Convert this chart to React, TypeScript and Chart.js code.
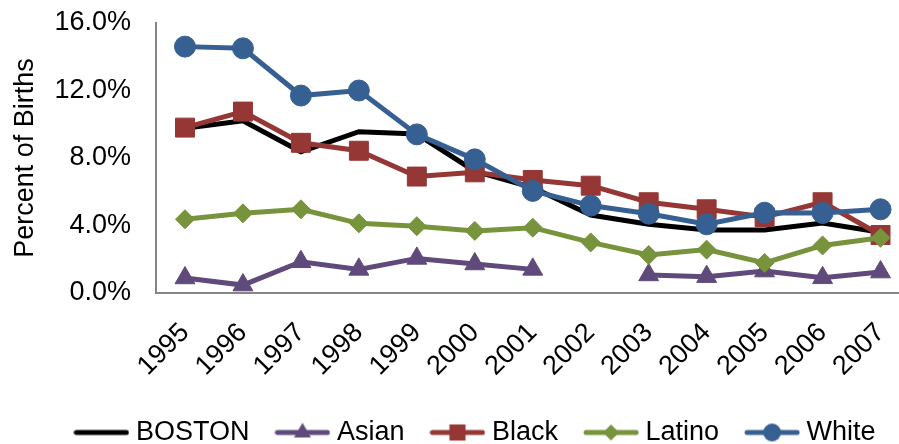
import React, { useEffect, useRef } from "react";
import { Chart, registerables } from "chart.js";

Chart.register(...registerables);

const years = ["1995", "1996", "1997", "1998", "1999", "2000", "2001", "2002", "2003", "2004", "2005", "2006", "2007"];
const boston = [9.76, 10.2, 8.37, 9.56, 9.42, 7.22, 6.25, 4.62, 4.08, 3.73, 3.73, 4.15, 3.6];
const asian = [0.89, 0.47, 1.85, 1.4, 2.05, 1.72, 1.4, null, 1.07, 0.97, 1.3, 0.9, 1.24];
const black = [9.8, 10.75, 8.9, 8.43, 6.9, 7.15, 6.7, 6.36, 5.38, 4.96, 4.5, 5.38, 3.44];
const latino = [4.37, 4.72, 4.96, 4.13, 3.96, 3.68, 3.87, 3.0, 2.25, 2.57, 1.78, 2.82, 3.27];
const white = [14.6, 14.5, 11.7, 12.0, 9.4, 7.92, 6.05, 5.18, 4.7, 4.07, 4.76, 4.74, 4.96];
const yTicks = [0, 4, 8, 12, 16];

const seriesNames = ["BOSTON", "Asian", "Black", "Latino", "White"];
const seriesColors = ["#000000", "#604A7B", "#953735", "#77933C", "#376092"];
const seriesStyles = [false, "triangle", "rect", "rectRot", "circle"];
const seriesRadius = [0, 11.5, 13.4, 9.5, 10.5];

function legendImage(color: string, style: any, radius: number): HTMLCanvasElement {
  const c = document.createElement("canvas");
  c.width = 56;
  c.height = 28;
  const ctx = c.getContext("2d")!;
  const cy = 14;
  ctx.strokeStyle = color;
  ctx.fillStyle = color;
  ctx.lineWidth = 5;
  ctx.lineCap = "round";
  ctx.beginPath();
  ctx.moveTo(3, cy);
  ctx.lineTo(53, cy);
  ctx.stroke();
  const cx = 28;
  const r = radius * 0.85;
  ctx.beginPath();
  if (style === "circle") {
    ctx.arc(cx, cy, r, 0, Math.PI * 2);
  } else if (style === "rect") {
    const s = Math.SQRT1_2 * r;
    ctx.rect(cx - s, cy - s, 2 * s, 2 * s);
  } else if (style === "rectRot") {
    ctx.moveTo(cx - r, cy);
    ctx.lineTo(cx, cy - r);
    ctx.lineTo(cx + r, cy);
    ctx.lineTo(cx, cy + r);
    ctx.closePath();
  } else if (style === "triangle") {
    ctx.moveTo(cx, cy - r);
    ctx.lineTo(cx + 0.866 * r, cy + r / 2);
    ctx.lineTo(cx - 0.866 * r, cy + r / 2);
    ctx.closePath();
  }
  if (style) ctx.fill();
  return c;
}

const FONT = "'Liberation Sans', Arial, sans-serif";

export default function App() {
  const ref = useRef<HTMLCanvasElement>(null);
  useEffect(() => {
    const values = [boston, asian, black, latino, white];
    const datasets = seriesNames.map((name, i) => ({
      label: name,
      data: values[i],
      borderColor: seriesColors[i],
      backgroundColor: seriesColors[i],
      borderWidth: 5,
      pointStyle: seriesStyles[i] as any,
      pointRadius: seriesRadius[i],
      pointBorderWidth: 1,
      pointBackgroundColor: seriesColors[i],
      pointBorderColor: seriesColors[i],
      order: 4 - i,
      spanGaps: false,
      tension: 0,
    }));
    const images = seriesNames.map((_, i) => legendImage(seriesColors[i], seriesStyles[i], seriesRadius[i]));
    const legendShift = {
      id: "legendShift",
      afterLayout(chart: any) {
        const lg = chart.legend;
        if (!lg) return;
        const dx = 14;
        const dy = 12;
        lg.left += dx;
        lg.right += dx;
        lg.top += dy;
        lg.bottom += dy;
      },
    };
    const chart = new Chart(ref.current!, {
      type: "line",
      data: { labels: years, datasets },
      plugins: [legendShift],
      options: {
        animation: false,
        responsive: false,
        maintainAspectRatio: false,
        layout: { padding: { top: 23, left: 0, right: 0, bottom: 0 } },
        plugins: {
          tooltip: { enabled: false },
          legend: {
            position: "bottom",
            labels: {
              usePointStyle: true,
              pointStyleWidth: 42,
              padding: 32,
              color: "#000000",
              font: { family: FONT, size: 27 },
              generateLabels: () =>
                seriesNames.map((name, i) => ({
                  text: name,
                  fillStyle: seriesColors[i],
                  strokeStyle: seriesColors[i],
                  lineWidth: 0,
                  pointStyle: images[i],
                  hidden: false,
                  datasetIndex: i,
                  fontColor: "#000000",
                })),
            },
          },
        },
        scales: {
          x: {
            type: "category",
            offset: true,
            grid: { display: false, drawTicks: false },
            border: { display: true, color: "#868686", width: 2 },
            ticks: {
              color: "#000000",
              font: { family: FONT, size: 27 },
              minRotation: 45,
              maxRotation: 45,
              padding: 24,
              autoSkip: false,
            },
            afterFit: (s: any) => {
              s.height = 82;
            },
          },
          y: {
            min: 0,
            max: 16,
            grid: { display: false, drawTicks: false },
            border: { display: true, color: "#868686", width: 2 },
            afterBuildTicks: (s: any) => {
              s.ticks = yTicks.map((v) => ({ value: v }));
            },
            ticks: {
              color: "#000000",
              font: { family: FONT, size: 27 },
              padding: 25,
              callback: (v: any) => Number(v).toFixed(1) + "%",
            },
            title: {
              display: true,
              text: "Percent of Births",
              color: "#000000",
              font: { family: FONT, size: 27 },
              padding: { top: 9, bottom: 0 },
            },
            afterFit: (s: any) => {
              s.width = 156;
              s.paddingTop = 0;
              s.paddingBottom = 0;
            },
          },
        },
      },
    });
    return () => chart.destroy();
  }, []);
  return (
    <div style={{ position: "fixed", left: 0, top: 0, width: 899, height: 444, overflow: "hidden", background: "#fff" }}>
      <canvas ref={ref} width={928} height={444} style={{ display: "block" }} />
    </div>
  );
}
